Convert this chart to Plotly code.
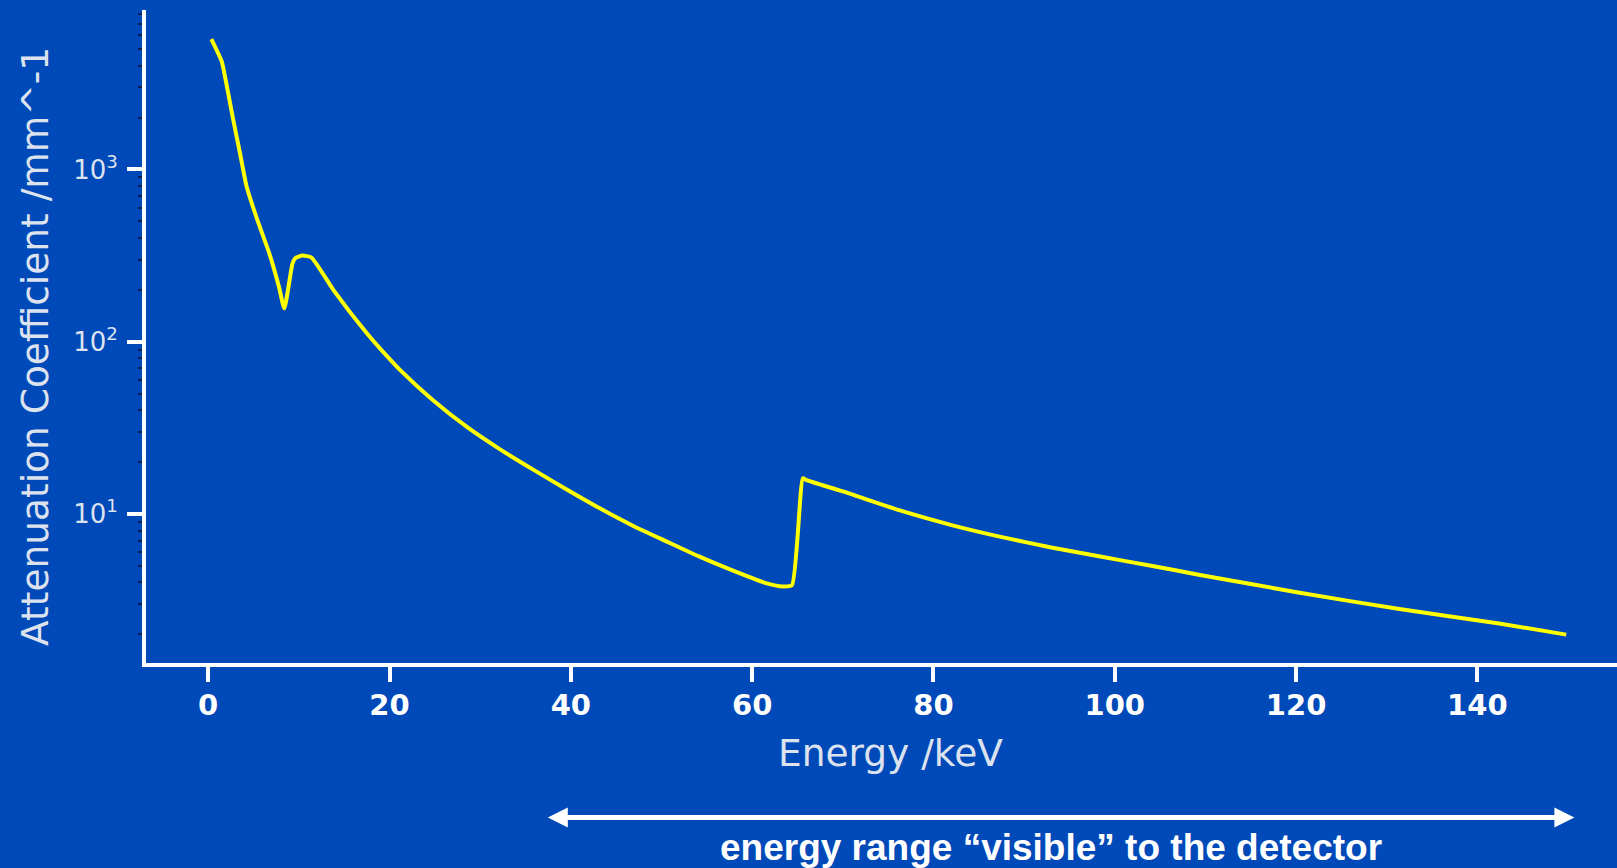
import plotly.graph_objects as go

# ---- data ----
energy_kev = [0.35, 1.5, 2.0, 2.77, 3.51, 4.24, 5.42, 6.74, 7.81, 8.4, 9.3,
              9.6, 10.4, 11.4, 13.8, 17.5, 19.9, 21.15, 24.8, 28.5, 32.2,
              35.9, 39.5, 43.2, 46.9, 50.6, 54.2, 57.9, 61.6, 63.4, 64.4,
              65.6, 66.0, 70.0, 76.3, 82.0, 87.3, 93.0, 98.4, 104.0, 109.4,
              115.0, 120.4, 131.4, 142.4, 149.8]
attenuation = [5720, 4230, 3160, 1936, 1242, 795, 509, 326, 208, 156, 285,
               305, 316, 308, 200, 112, 80.5, 68.6, 45.7, 32.1, 23.7,
               18.0, 13.9, 10.77, 8.51, 6.90, 5.64, 4.68, 3.95, 3.79, 3.86,
               16.1, 15.7, 13.5, 10.47, 8.61, 7.38, 6.38, 5.65, 5.0, 4.42,
               3.92, 3.48, 2.80, 2.31, 1.99]

x_ticks = [0, 20, 40, 60, 80, 100, 120, 140]
y_ticks = [10, 100, 1000]
y_tick_text = ["10<sup>1</sup>", "10<sup>2</sup>", "10<sup>3</sup>"]
y_minor = [m * 10 ** e for e in range(0, 4) for m in range(2, 10)]

x_title = "Energy /keV"
y_title = "Attenuation Coefficient /mm^-1"
range_text = "energy range \u201cvisible\u201d to the detector"
range_start_kev = 37.3
range_end_kev = 150.7

BG = "#0049b8"
W, H = 1617, 868
L, R, T, B = 146, 0, 10, 205
PW, PH = W - L - R, H - T - B


def py(ypix):
    return (H - B - ypix) / PH


def px(xpix):
    return (xpix - L) / PW


fig = go.Figure()
fig.add_trace(go.Scatter(
    x=energy_kev, y=attenuation, mode="lines",
    line=dict(color="#ffff00", width=4, shape="spline", smoothing=0.5),
    showlegend=False, hoverinfo="skip"))

fig.update_layout(
    width=W, height=H,
    margin=dict(l=L, r=R, t=T, b=B, pad=0),
    paper_bgcolor=BG, plot_bgcolor=BG,
    showlegend=False,
    font=dict(family="DejaVu Sans", color="#dde3ee"),
)

fig.update_xaxes(
    range=[-6.86, 155.4],
    tickvals=x_ticks, ticktext=[str(v) for v in x_ticks],
    showgrid=False, zeroline=False,
    showline=True, linecolor="white", linewidth=4,
    ticks="outside", ticklen=15, tickwidth=4, tickcolor="white",
    tickfont=dict(family="DejaVu Sans", size=29, color="white", weight="bold"),
    ticklabelstandoff=-2,
)

fig.update_yaxes(
    type="log", range=[0.134, 3.926],
    tickvals=y_ticks, ticktext=y_tick_text,
    showgrid=False, zeroline=False,
    showline=True, linecolor="white", linewidth=4,
    ticks="outside", ticklen=15, tickwidth=4, tickcolor="white",
    tickfont=dict(family="DejaVu Sans", size=26, color="#dde3ee"),
    ticklabelstandoff=4,
    minor=dict(tickvals=y_minor, ticks="outside", ticklen=4, tickwidth=2,
               tickcolor="#0b1f55", showgrid=False),
)

# axis titles
fig.add_annotation(
    text=x_title, xref="x", yref="paper", x=75.25, y=py(753),
    showarrow=False, xanchor="center", yanchor="middle",
    font=dict(family="DejaVu Sans", size=37.5, color="#dde3ee"))
fig.add_annotation(
    text=y_title, xref="paper", yref="paper", x=px(35), y=py(347),
    showarrow=False, textangle=-90, xanchor="center", yanchor="middle",
    font=dict(family="DejaVu Sans", size=37.5, color="#dde3ee"))

# double-headed arrow marking the detector range
fig.add_annotation(
    x=range_end_kev, y=py(817.5), ax=range_start_kev, ay=0,
    xref="x", yref="paper", axref="x", ayref="pixel",
    text="", showarrow=True, arrowside="end+start",
    arrowhead=2, arrowsize=0.8, arrowwidth=5, arrowcolor="white", standoff=0,
    startstandoff=0, startarrowhead=2, startarrowsize=0.8)

fig.add_annotation(
    text=range_text, xref="x", yref="paper", x=93.0, y=py(847),
    showarrow=False, xanchor="center", yanchor="middle",
    font=dict(family="Liberation Sans", size=37, color="white", weight="bold"))

fig.write_html("out.html")
